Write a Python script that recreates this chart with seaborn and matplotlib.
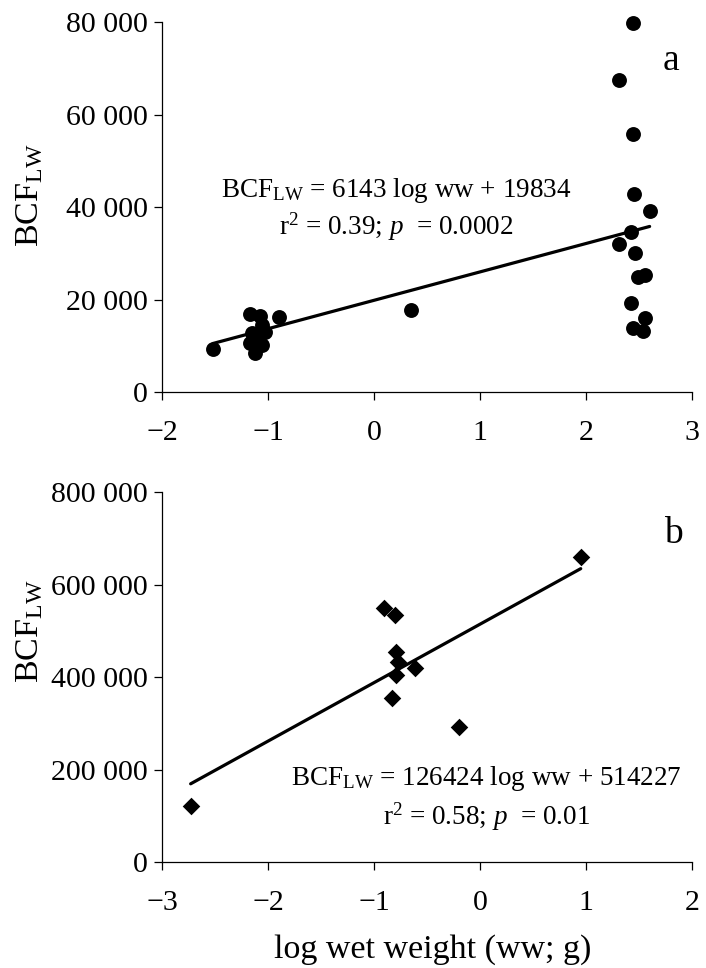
import numpy as np
import pandas as pd
import matplotlib
matplotlib.use('Agg')
import matplotlib.pyplot as plt
import seaborn as sns

# panel a: log wet weight vs BCF_LW (circles)
logww_a = [-1.52, -1.17, -1.08, -0.90, -1.06, -1.03, -1.15, -1.17, -1.06, -1.12,
           -1.11, 0.35, 2.44, 2.31, 2.44, 2.45, 2.60, 2.42, 2.31, 2.46,
           2.56, 2.49, 2.42, 2.56, 2.44, 2.54]
bcf_a = [9230, 16860, 16430, 16290, 14490, 13040, 12690, 10530, 10160, 8370,
         11960, 17730, 79800, 67460, 55710, 42740, 39200, 34530, 32000, 30120,
         25300, 24800, 19310, 15930, 13770, 13260]
slope_a, icpt_a = 6143, 19834

# panel b: log wet weight vs BCF_LW (diamonds)
logww_b = [-2.73, -0.91, -0.80, -0.79, -0.77, -0.61, -0.79, -0.83, -0.20, 0.95]
bcf_b = [122000, 548900, 534500, 453500, 431900, 419700, 405400, 355200, 292700, 658700]
slope_b, icpt_b = 126424, 514227

xticks_a = [-2, -1, 0, 1, 2, 3]
yticks_a = [0, 20000, 40000, 60000, 80000]
ytick_labels_a = ['0', '20 000', '40 000', '60 000', '80 000']
xticks_b = [-3, -2, -1, 0, 1, 2]
yticks_b = [0, 200000, 400000, 600000, 800000]
ytick_labels_b = ['0', '200 000', '400 000', '600 000', '800 000']

eq_a = 'BCF$_{\\mathregular{LW}}$ = 6143 log ww + 19834'
st_a = 'r$^{\\mathregular{2}}$ = 0.39; $p$  = 0.0002'
eq_b = 'BCF$_{\\mathregular{LW}}$ = 126424 log ww + 514227'
st_b = 'r$^{\\mathregular{2}}$ = 0.58; $p$  = 0.01'
ylab = 'BCF$_{\\mathregular{LW}}$'
xlab = 'log wet weight (ww; g)'

sns.set_theme(style='ticks')
plt.rcParams['font.family'] = ['Liberation Serif', 'DejaVu Serif']
plt.rcParams['mathtext.fontset'] = 'custom'
plt.rcParams['mathtext.rm'] = 'Liberation Serif'
plt.rcParams['mathtext.it'] = 'Liberation Serif:italic'
plt.rcParams['axes.linewidth'] = 0.9
plt.rcParams['axes.edgecolor'] = 'black'
plt.rcParams['text.color'] = 'black'
plt.rcParams['axes.labelcolor'] = 'black'

df_a = pd.DataFrame({'x': logww_a, 'y': bcf_a})
df_b = pd.DataFrame({'x': logww_b, 'y': bcf_b})
xa = np.array([min(logww_a), max(logww_a)])
xb = np.array([min(logww_b), max(logww_b)])
fit_a = pd.DataFrame({'x': xa, 'y': slope_a * xa + icpt_a})
fit_b = pd.DataFrame({'x': xb, 'y': slope_b * xb + icpt_b})

fig = plt.figure(figsize=(7.06, 9.68), dpi=100)
ax1 = fig.add_axes([0.2295, 0.595, 0.7507, 0.3822])
ax2 = fig.add_axes([0.2295, 0.1095, 0.7507, 0.3822])

sns.lineplot(data=fit_a, x='x', y='y', color='black', linewidth=2.3, ax=ax1)
sns.scatterplot(data=df_a, x='x', y='y', color='black', marker='o', s=115,
                linewidth=0, ax=ax1, clip_on=False, zorder=3)
sns.lineplot(data=fit_b, x='x', y='y', color='black', linewidth=2.3, ax=ax2)
sns.scatterplot(data=df_b, x='x', y='y', color='black', marker='D', s=80,
                linewidth=0, ax=ax2, clip_on=False, zorder=3)

for ax, xt, yt, ytl in [(ax1, xticks_a, yticks_a, ytick_labels_a),
                        (ax2, xticks_b, yticks_b, ytick_labels_b)]:
    ax.set_xlim(xt[0], xt[-1])
    ax.set_ylim(yt[0], yt[-1])
    ax.set_xticks(xt)
    ax.set_yticks(yt)
    ax.set_yticklabels(ytl)
    sns.despine(ax=ax)
    ax.tick_params(axis='both', direction='out', length=6, width=0.9,
                   colors='black', labelsize=21.5)
    ax.tick_params(axis='x', pad=14)
    ax.tick_params(axis='y', pad=4)
    ax.set_xlabel('')
    ax.set_ylabel(ylab, fontsize=24.5, va='baseline')

ax1.yaxis.set_label_coords(-0.234, 0.532)
ax2.yaxis.set_label_coords(-0.234, 0.625)
ax2.set_xlabel(xlab, fontsize=24.5, va='baseline')
ax2.xaxis.set_label_coords(0.51, -0.2595)

ax1.text(0.21, 42230, eq_a, ha='center', va='baseline', fontsize=19.5)
ax1.text(0.21, 33950, st_a, ha='center', va='baseline', fontsize=19.5)
ax1.text(2.80, 69620, 'a', ha='center', va='baseline', fontsize=27)

ax2.text(0.057, 166500, eq_b, ha='center', va='baseline', fontsize=19.5)
ax2.text(0.057, 80000, st_b, ha='center', va='baseline', fontsize=19.5)
ax2.text(1.82, 688800, 'b', ha='center', va='baseline', fontsize=27)

fig.savefig('out.png', dpi=100)
